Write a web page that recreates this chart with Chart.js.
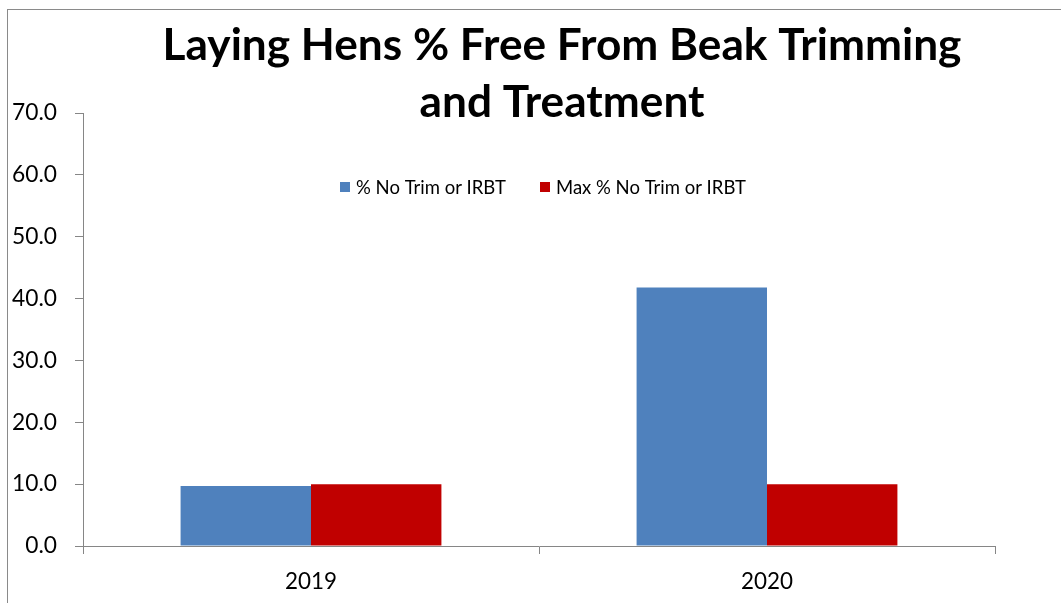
<!DOCTYPE html>
<html><head><meta charset="utf-8">
<script src="https://cdn.jsdelivr.net/npm/chart.js@4.4.1/dist/chart.umd.min.js"></script>
<style>
html,body{margin:0;padding:0;background:#fff;overflow:hidden;width:1061px;height:603px;}
#frame{position:absolute;left:7px;top:9px;width:1200px;height:700px;border:1px solid #8a8a8a;box-sizing:border-box;}
#wrap{position:absolute;left:0;top:0;width:1124px;height:603px;}
</style></head><body>
<div id="frame"></div>
<div id="wrap"><canvas id="c" width="1124" height="603"></canvas></div>
<script>
// ---- data ----
const categories = ['2019', '2020'];
const seriesNames = ['% No Trim or IRBT', 'Max % No Trim or IRBT'];
const noTrimValues = [9.7, 41.8];
const maxNoTrimValues = [10.0, 10.0];
const titleLines = ['Laying Hens % Free From Beak Trimming', 'and Treatment'];
const yMin = 0, yMax = 70, yStep = 10;

// ---- styling ----
const FAMILY = 'Lato, "Open Sans", "DejaVu Sans", sans-serif';
const colors = ['#4F81BD', '#C00000'];
const axisGray = '#868686';

function fitSize(text, weight, target) {
  const ctx = document.createElement('canvas').getContext('2d');
  ctx.font = weight + ' 100px Lato';
  return 100 * target / ctx.measureText(text).width;
}
const titleSize = fitSize(titleLines[0], 'bold', 799);
const tickSize = fitSize('70.0', 'normal', 45);
const xTickSize = fitSize('2019', 'normal', 52);
const legendSize = fitSize(seriesNames[0], 'normal', 150);

const insideLegend = {
  id: 'insideLegend',
  afterDraw(chart) {
    const ctx = chart.ctx;
    const ca = chart.chartArea;
    ctx.save();
    ctx.font = 'normal ' + legendSize + 'px ' + FAMILY;
    const box = 10, gapBT = 6, gapItems = 34;
    const items = chart.data.datasets.map(ds => ({label: ds.label, color: ds.backgroundColor, w: ctx.measureText(ds.label).width}));
    let total = items.reduce((s, it) => s + box + gapBT + it.w, 0) + gapItems * (items.length - 1);
    let x = (ca.left + ca.right) / 2 + 4 - total / 2;
    const cy = 187;
    ctx.textBaseline = 'middle';
    ctx.textAlign = 'left';
    items.forEach(it => {
      ctx.fillStyle = it.color;
      ctx.fillRect(Math.round(x), cy - 5, box, box);
      ctx.fillStyle = '#000';
      ctx.fillText(it.label, x + box + gapBT, cy + 1);
      x += box + gapBT + it.w + gapItems;
    });
    ctx.restore();
  }
};

new Chart(document.getElementById('c'), {
  type: 'bar',
  data: {
    labels: categories,
    datasets: [
      {label: seriesNames[0], data: noTrimValues, backgroundColor: colors[0], borderWidth: 0},
      {label: seriesNames[1], data: maxNoTrimValues, backgroundColor: colors[1], borderWidth: 0}
    ]
  },
  options: {
    responsive: false,
    animation: false,
    devicePixelRatio: 1,
    datasets: {bar: {categoryPercentage: 0.572, barPercentage: 1.0}},
    layout: {padding: 0},
    plugins: {
      legend: {display: false},
      tooltip: {enabled: false},
      title: {
        display: true,
        text: titleLines,
        color: '#000',
        font: {family: FAMILY, size: titleSize, weight: 'bold', lineHeight: '57px'},
        padding: {top: 17.5, bottom: -18.5}
      }
    },
    scales: {
      x: {
        offset: true,
        grid: {display: true, offset: true, drawOnChartArea: false, drawTicks: true, tickLength: 8, tickColor: axisGray},
        border: {display: true, color: axisGray, width: 1},
        ticks: {color: '#000', font: {family: FAMILY, size: xTickSize}, padding: 14},
        afterFit: s => { s.height = 57; }
      },
      y: {
        min: yMin, max: yMax,
        grid: {display: true, drawOnChartArea: false, drawTicks: true, tickLength: 8, tickColor: axisGray},
        border: {display: true, color: axisGray, width: 1},
        ticks: {stepSize: yStep, color: '#000', font: {family: FAMILY, size: tickSize}, padding: 18,
                callback: v => Number(v).toFixed(1)},
        afterFit: s => { s.width = 83; }
      },
      spacer: {
        type: 'linear', position: 'right', display: true,
        grid: {display: false}, border: {display: false}, ticks: {display: false},
        afterFit: s => { s.width = 129; }
      }
    }
  },
  plugins: [insideLegend]
});
</script>
</body></html>
